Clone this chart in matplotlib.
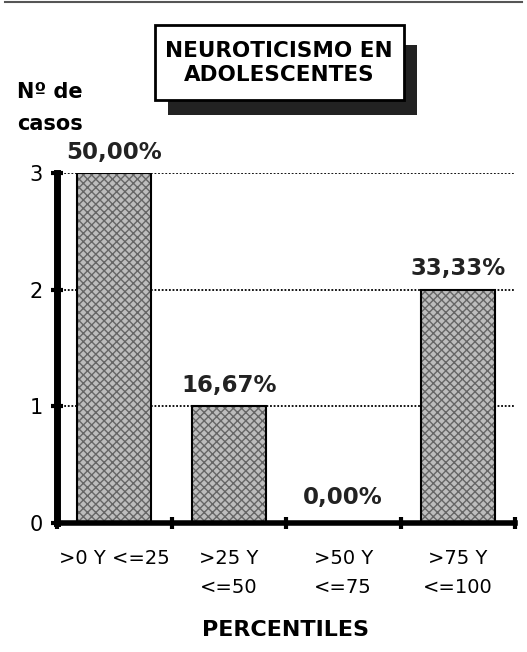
import numpy as np
import matplotlib
matplotlib.use("Agg")
import matplotlib.pyplot as plt
from matplotlib.patches import Rectangle

# data
categories = [">0 Y <=25", ">25 Y\n<=50", ">50 Y\n<=75", ">75 Y\n<=100"]
casos = [3, 1, 0, 2]
porcentajes = ["50,00%", "16,67%", "0,00%", "33,33%"]
yticks = [0, 1, 2, 3]

W, H = 527, 652
fig = plt.figure(figsize=(W / 100, H / 100), dpi=100)
fig.patch.set_facecolor("white")

def fx(px):
    return px / W

def fy(py):
    return 1 - py / H

ax = fig.add_axes([fx(57), fy(523), fx(515) - fx(57), fy(173) - fy(523)])

x = np.arange(len(categories))
bars = ax.bar(x, casos, width=0.65, color="#bdbdbd", edgecolor="black",
              linewidth=1.5, hatch="xxxx", zorder=3)
for b in bars:
    b._hatch_color = (0.4, 0.4, 0.4, 1)

ax.set_xlim(-0.5, 3.5)
ax.set_ylim(0, 3)

# dotted gridlines
for yv in yticks[1:]:
    ax.axhline(yv, color="black", linestyle=(0, (1, 1)), linewidth=1.3, zorder=1)

for s in ["top", "right"]:
    ax.spines[s].set_visible(False)
ax.spines["left"].set_linewidth(5)
ax.spines["bottom"].set_linewidth(4)
ax.spines["left"].set_zorder(4)
ax.spines["bottom"].set_zorder(4)

ax.set_yticks(yticks)
ax.set_yticklabels([str(v) for v in yticks], fontsize=15)
ax.tick_params(axis="y", length=8, width=3, direction="inout", pad=6)

ax.set_xticks(np.arange(-0.5, 4.0, 1.0))
ax.set_xticklabels([])
ax.tick_params(axis="x", length=8, width=3, direction="inout")
for i, lab in enumerate(categories):
    ax.text(i, -0.22, lab, ha="center", va="top", fontsize=14,
            linespacing=1.7, clip_on=False)

# value labels
for i, (v, p) in enumerate(zip(casos, porcentajes)):
    ypos = 0.12 if v == 0 else v + 0.08
    ax.text(i, ypos, p, ha="center", va="bottom", fontsize=16.5,
            fontweight="bold", color="#222222", clip_on=False)

# axis titles
fig.text(fx(17), fy(108), "Nº de\ncasos", ha="left", va="center",
         fontsize=15, fontweight="bold", linespacing=1.75)
fig.text(fx(286), fy(630), "PERCENTILES", ha="center", va="center",
         fontsize=16, fontweight="bold")

# title box with shadow
shadow = Rectangle((fx(168), fy(115)), fx(417) - fx(168), fy(45) - fy(115),
                   transform=fig.transFigure, facecolor="#222222",
                   edgecolor="none", zorder=1)
box = Rectangle((fx(155), fy(100)), fx(404) - fx(155), fy(25) - fy(100),
                transform=fig.transFigure, facecolor="white",
                edgecolor="black", linewidth=2, zorder=2)
fig.patches.extend([shadow, box])
fig.text(fx(279), fy(63), "NEUROTICISMO EN\nADOLESCENTES", ha="center",
         va="center", fontsize=15.5, fontweight="bold", linespacing=1.3,
         zorder=3)

# top border line
fig.add_artist(plt.Line2D([fx(5), fx(522)], [fy(2), fy(2)],
                          transform=fig.transFigure, color="#555555",
                          linewidth=1.5))

fig.savefig("out.png", dpi=100)
